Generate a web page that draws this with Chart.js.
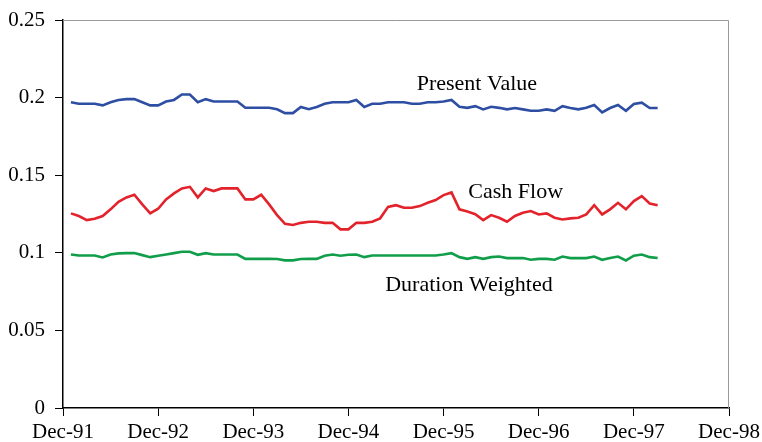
<!DOCTYPE html>
<html>
<head>
<meta charset="utf-8">
<script src="https://cdn.jsdelivr.net/npm/chart.js@4/dist/chart.umd.min.js"></script>
<style>
  html, body { margin: 0; padding: 0; background: #fff; }
  #lineChart { display: block; }
</style>
</head>
<body>
<canvas id="lineChart" width="762" height="442"></canvas>
<script>
// monthly values, Jan-92 .. Mar-98 (month 1 = Jan-92, month 0 = Dec-91)
var xTickLabels = ['Dec-91', 'Dec-92', 'Dec-93', 'Dec-94', 'Dec-95', 'Dec-96', 'Dec-97', 'Dec-98'];
var yTickLabels = ['0', '0.05', '0.1', '0.15', '0.2', '0.25'];
var firstMonth = 1;

var presentValue = [
  0.197, 0.196, 0.196, 0.196, 0.195, 0.197, 0.1985, 0.199, 0.199, 0.197, 0.195, 0.195,
  0.1975, 0.1985, 0.202, 0.202, 0.197, 0.199, 0.1975, 0.1975, 0.1975, 0.1975, 0.1935, 0.1935,
  0.1935, 0.1935, 0.1925, 0.190, 0.190, 0.194, 0.1925, 0.194, 0.196, 0.197, 0.197, 0.197,
  0.1985, 0.194, 0.196, 0.196, 0.197, 0.197, 0.197, 0.196, 0.196, 0.197, 0.197, 0.1975,
  0.1985, 0.1941, 0.1934, 0.1945, 0.1924, 0.1941, 0.1934, 0.1924, 0.1933, 0.1924, 0.1915, 0.1915,
  0.1924, 0.1915, 0.1945, 0.1933, 0.1924, 0.1934, 0.1952, 0.1904, 0.1933, 0.1952, 0.1915, 0.1959,
  0.1967, 0.1933, 0.1933
];
var cashFlow = [
  0.1254, 0.1237, 0.1211, 0.1219, 0.1237, 0.128, 0.1329, 0.1357, 0.1374, 0.1312, 0.1254, 0.1284,
  0.1344, 0.1383, 0.1415, 0.1425, 0.1357, 0.1415, 0.1398, 0.1415, 0.1415, 0.1415, 0.1344, 0.1344,
  0.1374, 0.1312, 0.1243, 0.1187, 0.1179, 0.1193, 0.120, 0.120, 0.1193, 0.1193, 0.1151, 0.1151,
  0.1193, 0.1193, 0.120, 0.1222, 0.1296, 0.1307, 0.129, 0.129, 0.1301, 0.1322, 0.134, 0.1372,
  0.1389, 0.128, 0.1266, 0.1249, 0.1211, 0.1243, 0.1226, 0.120, 0.1237, 0.1258, 0.1269, 0.1247,
  0.1254, 0.1226, 0.1215, 0.1222, 0.1226, 0.1247, 0.1307, 0.1247, 0.128, 0.1322, 0.128, 0.1333,
  0.1365, 0.1318, 0.1307
];
var durationWeighted = [
  0.0989, 0.0983, 0.0983, 0.0983, 0.097, 0.0989, 0.0996, 0.0998, 0.0998, 0.0985, 0.0972, 0.0981,
  0.0989, 0.0998, 0.1007, 0.1007, 0.0987, 0.0998, 0.0989, 0.0989, 0.0989, 0.0989, 0.0961, 0.0961,
  0.0961, 0.0961, 0.096, 0.0951, 0.0951, 0.096, 0.0961, 0.0961, 0.0981, 0.0989, 0.0981, 0.0987,
  0.0989, 0.0972, 0.0983, 0.0983, 0.0983, 0.0983, 0.0983, 0.0983, 0.0983, 0.0983, 0.0983, 0.0989,
  0.0998, 0.0972, 0.0961, 0.0972, 0.0961, 0.0972, 0.0976, 0.0966, 0.0966, 0.0966, 0.0955, 0.0961,
  0.0961, 0.0955, 0.0976, 0.0966, 0.0966, 0.0966, 0.0976, 0.0955, 0.0966, 0.0976, 0.0951, 0.0981,
  0.0989, 0.0972, 0.0966
];

// series name labels placed in data units (month, value)
var seriesLabels = [
  { text: 'Present Value', x: 52.2, y: 0.2088 },
  { text: 'Cash Flow', x: 57.1, y: 0.1393 },
  { text: 'Duration Weighted', x: 51.2, y: 0.0794 }
];

function toPoints(arr) {
  return arr.map(function (v, k) { return { x: firstMonth + k, y: v }; });
}

var fontFamily = '"Liberation Serif", "Times New Roman", serif';

var frameAndLabels = {
  id: 'frameAndLabels',
  afterDatasetsDraw: function (chart) {
    var ctx = chart.ctx, a = chart.chartArea;
    var xs = chart.scales.x, ys = chart.scales.y;
    ctx.save();
    ctx.strokeStyle = '#9a9a9a';
    ctx.lineWidth = 1;
    ctx.beginPath();
    ctx.moveTo(a.left, a.top + 0.5);
    ctx.lineTo(a.right - 0.5, a.top + 0.5);
    ctx.lineTo(a.right - 0.5, a.bottom);
    ctx.stroke();

    ctx.fillStyle = '#000';
    ctx.font = '22px ' + fontFamily;
    ctx.textAlign = 'center';
    ctx.textBaseline = 'middle';
    seriesLabels.forEach(function (l) {
      ctx.fillText(l.text, xs.getPixelForValue(l.x), ys.getPixelForValue(l.y));
    });
    ctx.restore();
  }
};

var ctxL = document.getElementById('lineChart').getContext('2d');
var myLineChart = new Chart(ctxL, {
  type: 'line',
  data: {
    datasets: [
      {
        label: 'Present Value',
        data: toPoints(presentValue),
        borderColor: '#2D4EA2',
        borderWidth: 2.6
      },
      {
        label: 'Cash Flow',
        data: toPoints(cashFlow),
        borderColor: '#E3232C',
        borderWidth: 2.6
      },
      {
        label: 'Duration Weighted',
        data: toPoints(durationWeighted),
        borderColor: '#119E4B',
        borderWidth: 2.6
      }
    ]
  },
  options: {
    responsive: false,
    animation: false,
    devicePixelRatio: 1,
    elements: { point: { radius: 0 }, line: { tension: 0 } },
    layout: { padding: { left: 0, right: 33, top: 20, bottom: 0 } },
    plugins: { legend: { display: false }, tooltip: { enabled: false } },
    scales: {
      x: {
        type: 'linear',
        min: 0,
        max: 84,
        afterFit: function (s) { s.height = 34; s.paddingLeft = 0; s.paddingRight = 0; },
        afterBuildTicks: function (s) {
          s.ticks = xTickLabels.map(function (t, k) { return { value: k * 12 }; });
        },
        ticks: {
          autoSkip: false,
          maxRotation: 0,
          padding: 4,
          color: '#000',
          font: { family: fontFamily, size: 21 },
          callback: function (v) { return xTickLabels[Math.round(v / 12)]; }
        },
        grid: { drawOnChartArea: false, drawTicks: true, tickLength: 8, color: '#000', lineWidth: 1 },
        border: { display: true, color: '#000', width: 1.5 }
      },
      y: {
        min: 0,
        max: 0.25,
        afterFit: function (s) { s.width = 63; s.paddingTop = 0; s.paddingBottom = 0; },
        afterBuildTicks: function (s) {
          s.ticks = yTickLabels.map(function (t, k) { return { value: k * 0.05 }; });
        },
        ticks: {
          padding: 10,
          color: '#000',
          font: { family: fontFamily, size: 21 },
          callback: function (v) { return yTickLabels[Math.round(v / 0.05)]; }
        },
        grid: { drawOnChartArea: false, drawTicks: true, tickLength: 8, color: '#000', lineWidth: 1 },
        border: { display: true, color: '#000', width: 1.5 }
      }
    }
  },
  plugins: [frameAndLabels]
});
</script>
</body>
</html>
